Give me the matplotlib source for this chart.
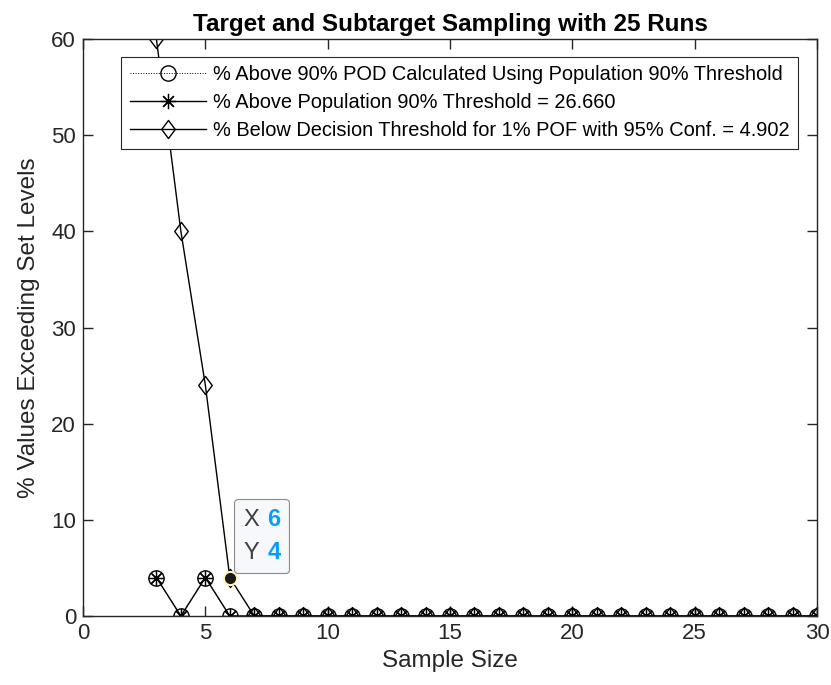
import matplotlib
matplotlib.use("Agg")
import matplotlib.pyplot as plt
from matplotlib.path import Path
from matplotlib.offsetbox import TextArea, HPacker, VPacker, AnnotationBbox

# Data
sampleSize = list(range(3, 31))
podAbove = [4, 0, 4, 0] + [0] * 24          # % above 90% POD (circles)
popAbove = [4, 0, 4, 0] + [0] * 24          # % above population 90% threshold (stars)
belowDecision = [60, 40, 24, 4] + [0] * 24  # % below decision threshold (diamonds)

tipX, tipY = 6, 4

plt.rcParams['font.family'] = ['Liberation Sans', 'DejaVu Sans']

# MATLAB-like markers
diamond = Path([(0, 1), (0.75, 0), (0, -1), (-0.75, 0), (0, 1)],
               [Path.MOVETO, Path.LINETO, Path.LINETO, Path.LINETO, Path.CLOSEPOLY])
star = (8, 2, 0)

fig = plt.figure(figsize=(8.31, 6.85), dpi=100)
ax = fig.add_axes([0.0999, 0.1007, 0.8833, 0.8423])

ax.plot(sampleSize, podAbove, color='black', linestyle=':', linewidth=0.7,
        marker='o', markersize=11, markerfacecolor='none', markeredgewidth=1.0,
        label='% Above 90% POD Calculated Using Population 90% Threshold')
ax.plot(sampleSize, popAbove, color='black', linestyle='-', linewidth=1.0,
        marker=star, markersize=11, markeredgewidth=0.9,
        label='% Above Population 90% Threshold = 26.660')
ax.plot(sampleSize, belowDecision, color='black', linestyle='-', linewidth=1.0,
        marker=diamond, markersize=13, markerfacecolor='none', markeredgewidth=1.0,
        label='% Below Decision Threshold for 1% POF with 95% Conf. = 4.902')

ax.set_xlim(0, 30)
ax.set_ylim(0, 60)
ax.set_xticks(range(0, 31, 5))
ax.set_yticks(range(0, 61, 10))
ax.tick_params(direction='in', labelsize=16, length=7, width=1.0, colors='#262626',
               top=True, right=True, pad=5)
for s in ax.spines.values():
    s.set_linewidth(1.0)
    s.set_color('#262626')

ax.set_xlabel('Sample Size', fontsize=17.5, color='#262626', labelpad=4)
ax.set_ylabel('% Values Exceeding Set Levels', fontsize=17.5, color='#262626', labelpad=8)
ax.set_title('Target and Subtarget Sampling with 25 Runs', fontsize=17.5,
             fontweight='bold', pad=6)

leg = ax.legend(loc='upper right', bbox_to_anchor=(0.9735, 0.969), fontsize=14.4,
                fancybox=False, edgecolor='#262626', framealpha=1,
                handlelength=3.8, borderpad=0.42, labelspacing=0.45,
                handletextpad=0.35, borderaxespad=0, markerscale=1.0)
leg.get_frame().set_linewidth(0.8)

# Data tip
ax.plot([tipX], [tipY], marker='o', markersize=10, color='#fff6c0', zorder=5)
ax.plot([tipX], [tipY], marker='o', markersize=7, color='#1a1a1a', zorder=6)

def tipRow(name, val):
    return HPacker(children=[
        TextArea(name, textprops=dict(fontsize=17, color='#404040')),
        TextArea(str(val), textprops=dict(fontsize=17, color='#0a9bff', fontweight='bold'))],
        pad=0, sep=6, align='baseline')

tipBox = VPacker(children=[tipRow('X', tipX), tipRow('Y', tipY)], pad=0, sep=7, align='left')
ab = AnnotationBbox(tipBox, (tipX, tipY), xybox=(23, 30), boxcoords='offset points',
                    box_alignment=(0.5, 0.5), pad=0.65,
                    bboxprops=dict(boxstyle='round,pad=0.65,rounding_size=0.3',
                                   fc='#f7f8fc', ec='#8a8a8a', lw=0.8),
                    zorder=7)
ax.add_artist(ab)

fig.savefig('out.png', dpi=100)
